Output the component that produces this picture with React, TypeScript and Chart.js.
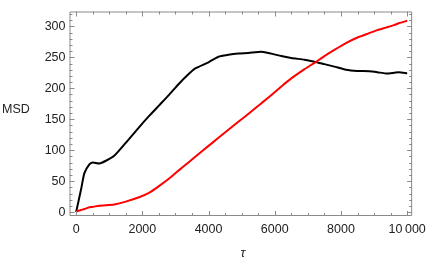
import React, { useEffect, useRef } from "react";
import { Chart, registerables } from "chart.js";

Chart.register(...registerables);

const tau: number[] = [0, 150, 250, 400, 500, 700, 900, 1150, 1500, 1900, 2200, 2500, 2800, 3100, 3400, 3600, 4000, 4300, 4600, 4900, 5200, 5600, 5900, 6200, 6500, 6900, 7200, 7500, 7800, 8150, 8500, 8850, 9100, 9350, 9600, 9750, 10000];
const msdBlack: number[] = [0, 37, 63, 77, 80, 78.5, 83, 91, 112, 137, 155, 172, 189, 207, 223, 232, 242, 251, 254, 256, 257, 259, 256, 252, 249, 246, 243, 239, 235, 230, 228, 227.5, 226, 224, 225, 226, 224];
const msdRed: number[] = [1, 3.5, 5, 8, 8.5, 10.5, 11, 12.3, 17, 24, 31, 42, 54, 67.5, 80.5, 89.5, 107, 120, 133, 146, 158.5, 176, 189, 203, 216, 231, 241, 252, 262, 273, 282, 289, 294, 298, 302, 305, 309];

const xTicks: number[] = [0, 2000, 4000, 6000, 8000, 10000];
const xTickLabels: string[] = ["0", "2000", "4000", "6000", "8000", "10\u2009000"];
const yTicks: number[] = [0, 50, 100, 150, 200, 250, 300];
const yTickLabels: string[] = ["0", "50", "100", "150", "200", "250", "300"];
const xLabel = "τ";
const yLabel = "MSD";

const FONT = "'Liberation Sans', Arial, sans-serif";

const framePlugin = {
  id: "mmaFrame",
  afterDraw(chart: any) {
    const { ctx, chartArea, scales } = chart;
    const { left, right, top, bottom } = chartArea;
    const xs = scales.x;
    const ys = scales.y;
    ctx.save();
    ctx.strokeStyle = "#8a8a8a";
    ctx.lineWidth = 1;
    ctx.beginPath();
    ctx.rect(left + 0.5, top + 0.5, right - left - 1, bottom - top - 1);
    ctx.stroke();
    ctx.beginPath();
    for (let v = 0; v <= 10000; v += 500) {
      const px = Math.round(xs.getPixelForValue(v)) + 0.5;
      const len = v % 2000 === 0 ? 5 : 3;
      ctx.moveTo(px, bottom);
      ctx.lineTo(px, bottom - len);
      ctx.moveTo(px, top);
      ctx.lineTo(px, top + len);
    }
    for (let v = 0; v <= 320; v += 10) {
      const py = Math.round(ys.getPixelForValue(v)) + 0.5;
      const len = v % 50 === 0 ? 5 : 3;
      ctx.moveTo(left, py);
      ctx.lineTo(left + len, py);
      ctx.moveTo(right, py);
      ctx.lineTo(right - len, py);
    }
    ctx.stroke();
    ctx.fillStyle = "#222";
    ctx.font = "12.5px " + FONT;
    ctx.textAlign = "left";
    ctx.textBaseline = "middle";
    ctx.fillText(yLabel, 2, 110);
    ctx.font = "italic 13px " + FONT;
    ctx.textAlign = "center";
    ctx.fillText(xLabel, 243, 253);
    ctx.restore();
  },
};

export default function App() {
  const ref = useRef<HTMLCanvasElement | null>(null);
  useEffect(() => {
    if (!ref.current) return;
    const chart = new Chart(ref.current, {
      type: "line",
      data: {
        labels: tau,
        datasets: [
          {
            data: tau.map((t, i) => ({ x: t, y: msdRed[i] })),
            borderColor: "#ff0000",
            borderWidth: 2,
            pointRadius: 0,
            tension: 0.2,
            fill: false,
          },
          {
            data: tau.map((t, i) => ({ x: t, y: msdBlack[i] })),
            borderColor: "#000000",
            borderWidth: 2,
            pointRadius: 0,
            tension: 0.2,
            fill: false,
          },
        ],
      },
      options: {
        animation: false,
        responsive: false,
        maintainAspectRatio: false,
        layout: { padding: { top: 1, right: 14, left: 0, bottom: 0 } },
        plugins: { legend: { display: false }, tooltip: { enabled: false }, title: { display: false } },
        scales: {
          x: {
            type: "linear",
            min: -200,
            max: 10150,
            grid: { display: false, drawTicks: false },
            border: { display: false },
            afterBuildTicks: (s: any) => {
              s.ticks = xTicks.map((v) => ({ value: v }));
            },
            afterFit: (s: any) => {
              s.height = 46;
            },
            ticks: {
              autoSkip: false,
              maxRotation: 0,
              padding: 6,
              color: "#222",
              font: { size: 12.5, family: FONT },
              callback: (v: any) => {
                const i = xTicks.indexOf(Number(v));
                return i >= 0 ? xTickLabels[i] : "";
              },
            },
          },
          y: {
            type: "linear",
            min: -6.2,
            max: 324,
            grid: { display: false, drawTicks: false },
            border: { display: false },
            afterBuildTicks: (s: any) => {
              s.ticks = yTicks.map((v) => ({ value: v }));
            },
            afterFit: (s: any) => {
              s.width = 69.5;
            },
            ticks: {
              autoSkip: false,
              padding: 4,
              color: "#222",
              font: { size: 12.5, family: FONT },
              callback: (v: any) => {
                const i = yTicks.indexOf(Number(v));
                return i >= 0 ? yTickLabels[i] : "";
              },
            },
          },
        },
      },
      plugins: [framePlugin],
    });
    return () => chart.destroy();
  }, []);
  return (
    <div style={{ position: "absolute", left: 0, top: 0, width: 432, height: 262, background: "#fff" }}>
      <canvas ref={ref} width={432} height={262} style={{ display: "block" }} />
    </div>
  );
}
